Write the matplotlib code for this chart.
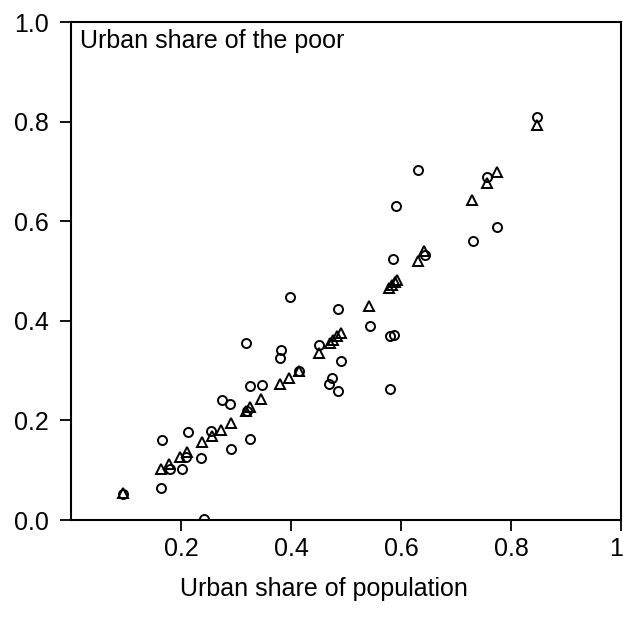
import matplotlib
matplotlib.use("Agg")
import matplotlib.pyplot as plt
import matplotlib.transforms as mtransforms

plt.rcParams['font.family'] = ['Liberation Sans', 'DejaVu Sans']

# Circles: actual urban share of the poor
circ_x = [0.094, 0.165, 0.164, 0.180, 0.201, 0.212, 0.209, 0.236, 0.241, 0.255,
          0.275, 0.289, 0.291, 0.320, 0.325, 0.325, 0.347, 0.318, 0.381, 0.380,
          0.398, 0.415, 0.450, 0.486, 0.491, 0.475, 0.469, 0.485, 0.543, 0.580,
          0.588, 0.580, 0.585, 0.590, 0.630, 0.644, 0.730, 0.775, 0.757, 0.847]
circ_y = [0.052, 0.161, 0.064, 0.102, 0.102, 0.177, 0.127, 0.124, 0.003, 0.179,
          0.240, 0.233, 0.143, 0.219, 0.162, 0.269, 0.272, 0.355, 0.342, 0.325,
          0.448, 0.299, 0.352, 0.423, 0.320, 0.286, 0.273, 0.259, 0.389, 0.369,
          0.371, 0.263, 0.524, 0.631, 0.703, 0.532, 0.561, 0.588, 0.689, 0.810]

# Triangles
tri_x = [0.094, 0.164, 0.179, 0.198, 0.211, 0.238, 0.256, 0.273, 0.290, 0.319,
         0.326, 0.346, 0.380, 0.397, 0.415, 0.450, 0.470, 0.477, 0.484, 0.490,
         0.542, 0.579, 0.584, 0.589, 0.593, 0.631, 0.641, 0.729, 0.757, 0.774, 0.847]
tri_y = [0.054, 0.102, 0.113, 0.126, 0.137, 0.156, 0.168, 0.181, 0.195, 0.219,
         0.226, 0.242, 0.274, 0.286, 0.300, 0.335, 0.355, 0.361, 0.369, 0.375,
         0.429, 0.465, 0.472, 0.477, 0.482, 0.521, 0.541, 0.642, 0.676, 0.699, 0.793]

x_ticks = [0.2, 0.4, 0.6, 0.8, 1.0]
x_tick_labels = ["0.2", "0.4", "0.6", "0.8", "1"]
y_ticks = [0.0, 0.2, 0.4, 0.6, 0.8, 1.0]
y_tick_labels = ["0.0", "0.2", "0.4", "0.6", "0.8", "1.0"]

fig = plt.figure(figsize=(6.23, 6.19), dpi=100)
ax = fig.add_axes([71/623, 99/619, 550/623, 498/619])

ax.plot(tri_x, tri_y, linestyle='none', marker='^', markersize=7,
        markerfacecolor='none', markeredgecolor='black', markeredgewidth=1.4)
ax.plot(circ_x, circ_y, linestyle='none', marker='o', markersize=6.5,
        markerfacecolor='none', markeredgecolor='black', markeredgewidth=1.4)

ax.set_xlim(0, 1)
ax.set_ylim(0, 1)
ax.set_xticks(x_ticks)
ax.set_xticklabels(x_tick_labels)
ax.set_yticks(y_ticks)
ax.set_yticklabels(y_tick_labels)
ax.tick_params(direction='out', length=8, width=1.3, labelsize=18)
ax.tick_params(axis='x', pad=4)
ax.tick_params(axis='y', pad=8)
for s in ax.spines.values():
    s.set_linewidth(1.5)

# keep the last x tick label inside the canvas
last = ax.get_xticklabels()[-1]
last.set_transform(last.get_transform() +
                   mtransforms.ScaledTranslation(-5/100, 0, fig.dpi_scale_trans))

ax.text(0.016, 0.985, "Urban share of the poor", transform=ax.transAxes,
        ha='left', va='top', fontsize=18)
ax.set_xlabel("Urban share of population", fontsize=18)
ax.xaxis.set_label_coords(0.46, -0.115)

fig.savefig("out.png", dpi=100)
